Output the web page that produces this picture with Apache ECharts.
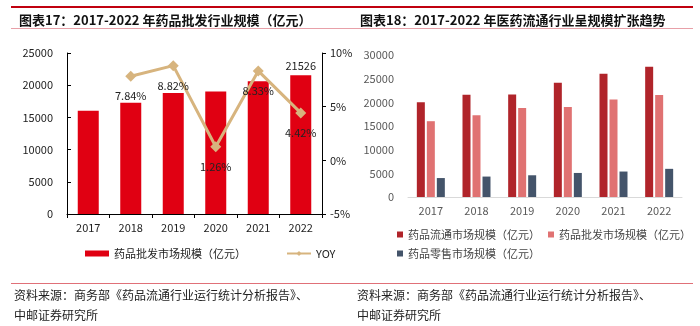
<!DOCTYPE html>
<html><head><meta charset="utf-8">
<script src="https://cdn.jsdelivr.net/npm/echarts@6/dist/echarts.min.js"></script>
<style>html,body{margin:0;padding:0;background:#fff}#c{width:700px;height:326px}</style>
</head><body><div id="c"></div>
<script>
const years = ['2017','2018','2019','2020','2021','2022'];
const wholesale = [16014, 17270, 18793, 19030, 20615, 21526];
const yoy = [null, 7.84, 8.82, 1.26, 8.33, 4.42];
const circulation = [20016, 21586, 21650, 24149, 26064, 27516];
const retail = [4003, 4317, 4590, 5080, 5380, 5950];
const leftTicks = [0, 5000, 10000, 15000, 20000, 25000];
const rightTicks = [-5, 0, 5, 10];

const FONT = '"Noto Sans CJK SC", "Liberation Sans", sans-serif';
const chart = echarts.init(document.getElementById('c'), null, {renderer: 'canvas'});
const lineRed = '#C0000F', pink = '#E8A0A8';
const plain = v => String(v);

chart.setOption({
  animation: false,
  textStyle: {fontFamily: FONT},
  title: [
    {text: '图表17：2017-2022 年药品批发行业规模（亿元）', left: 14, top: 9,
     textStyle: {fontSize: 13, fontWeight: 'bold', color: '#111', fontFamily: FONT}},
    {text: '图表18：2017-2022 年医药流通行业呈规模扩张趋势', left: 355, top: 9,
     textStyle: {fontSize: 13, fontWeight: 'bold', color: '#111', fontFamily: FONT}}
  ],
  graphic: [
    {type: 'rect', shape: {x: 11, y: 6, width: 682, height: 2}, style: {fill: lineRed}},
    {type: 'rect', shape: {x: 11, y: 28, width: 682, height: 1}, style: {fill: pink}},
    {type: 'rect', shape: {x: 11, y: 283, width: 682, height: 1}, style: {fill: '#E07078'}},
    {type: 'text', left: 14, top: 289, style: {text: '资料来源：商务部《药品流通行业运行统计分析报告》、', fontSize: 12, fill: '#222', fontFamily: FONT}},
    {type: 'text', left: 14, top: 309, style: {text: '中邮证券研究所', fontSize: 12, fill: '#222', fontFamily: FONT}},
    {type: 'text', left: 357, top: 289, style: {text: '资料来源：商务部《药品流通行业运行统计分析报告》、', fontSize: 12, fill: '#222', fontFamily: FONT}},
    {type: 'text', left: 357, top: 309, style: {text: '中邮证券研究所', fontSize: 12, fill: '#222', fontFamily: FONT}}
  ],
  legend: [
    {left: 80, top: 243, itemGap: 40, itemWidth: 24, itemHeight: 6,
     textStyle: {fontSize: 11, color: '#222', fontFamily: FONT},
     data: [{name: '药品批发市场规模（亿元）', icon: 'rect'}, {name: 'YOY'}]},
    {left: 392, top: 224, width: 300, itemGap: 8, itemWidth: 6, itemHeight: 6,
     textStyle: {fontSize: 11, color: '#444', fontFamily: FONT},
     data: [{name: '药品流通市场规模（亿元）', icon: 'rect'}, {name: '药品批发市场规模（亿元） ', icon: 'rect'}, {name: '药品零售市场规模（亿元）', icon: 'rect'}]}
  ],
  grid: [
    {left: 67, right: 378, top: 53, bottom: 112, containLabel: false},
    {left: 408, right: 18, top: 55, bottom: 129, containLabel: false}
  ],
  xAxis: [
    {type: 'category', gridIndex: 0, data: years,
     axisLine: {lineStyle: {color: '#000', width: 1}},
     axisTick: {show: true, length: 4, lineStyle: {color: '#000'}},
     axisLabel: {fontSize: 11, color: '#222', margin: 8, fontFamily: FONT}},
    {type: 'category', gridIndex: 1, data: years,
     axisLine: {lineStyle: {color: '#D9D9D9', width: 1}},
     axisTick: {show: false},
     axisLabel: {fontSize: 11, color: '#595959', margin: 8, fontFamily: FONT}}
  ],
  yAxis: [
    {type: 'value', gridIndex: 0, min: leftTicks[0], max: leftTicks[leftTicks.length - 1], interval: 5000,
     axisLine: {show: true, lineStyle: {color: '#000'}},
     axisTick: {show: true, inside: true, length: 4, lineStyle: {color: '#000'}},
     splitLine: {show: false},
     axisLabel: {fontSize: 11, color: '#222', margin: 14, fontFamily: FONT, formatter: plain}},
    {type: 'value', gridIndex: 0, position: 'right', min: rightTicks[0], max: rightTicks[rightTicks.length - 1], interval: 5,
     axisLine: {show: true, lineStyle: {color: '#000'}},
     axisTick: {show: true, length: 4, lineStyle: {color: '#000'}},
     splitLine: {show: false},
     axisLabel: {fontSize: 11, color: '#222', margin: 8, formatter: '{value}%', fontFamily: FONT}},
    {type: 'value', gridIndex: 1, min: 0, max: 30000, interval: 5000,
     axisLine: {show: false}, axisTick: {show: false}, splitLine: {show: false},
     axisLabel: {fontSize: 11, color: '#595959', margin: 14, fontFamily: FONT, formatter: plain}}
  ],
  series: [
    {name: '药品批发市场规模（亿元）', type: 'bar', xAxisIndex: 0, yAxisIndex: 0, data: wholesale,
     barWidth: 21, itemStyle: {color: '#E00012'},
     label: {show: true, position: 'top', distance: 4, fontSize: 11, color: '#222',
       formatter: p => p.dataIndex === wholesale.length - 1 ? String(p.value) : ''}},
    {name: 'YOY', type: 'line', xAxisIndex: 0, yAxisIndex: 1, data: yoy,
     symbol: 'diamond', symbolSize: 11, lineStyle: {color: '#D7B47E', width: 3},
     itemStyle: {color: '#D7B47E'},
     label: {show: true, position: 'bottom', distance: 9, fontSize: 11, color: '#222',
       formatter: p => p.value == null ? '' : p.value.toFixed(2) + '%'}},
    {name: '药品流通市场规模（亿元）', type: 'bar', xAxisIndex: 1, yAxisIndex: 2, data: circulation,
     barWidth: 8, barGap: '25%', itemStyle: {color: '#B0242A'}},
    {name: '药品批发市场规模（亿元） ', type: 'bar', xAxisIndex: 1, yAxisIndex: 2, data: wholesale,
     barWidth: 8, barGap: '25%', itemStyle: {color: '#E07272'}},
    {name: '药品零售市场规模（亿元）', type: 'bar', xAxisIndex: 1, yAxisIndex: 2, data: retail,
     barWidth: 8, barGap: '25%', itemStyle: {color: '#44546A'}}
  ]
});
</script></body></html>
